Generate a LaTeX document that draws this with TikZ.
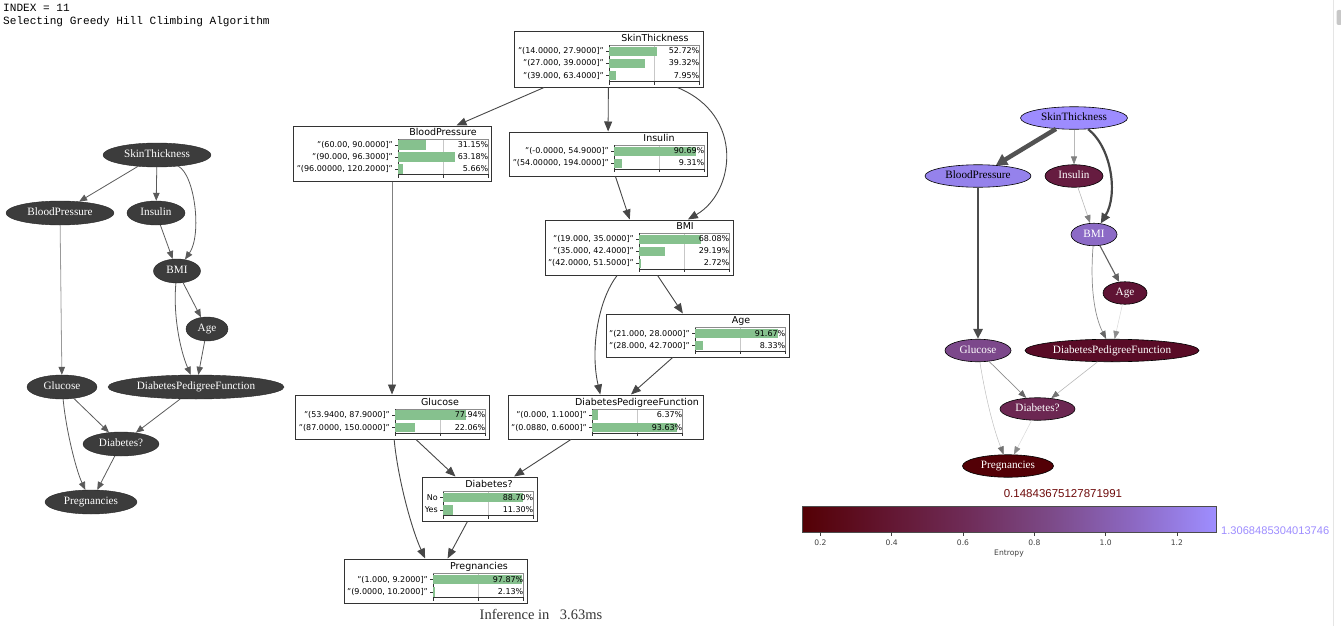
\documentclass[tikz,border=0pt]{standalone}
\usepackage{fontspec}
\setmainfont{Liberation Serif}
\setsansfont{DejaVu Sans}
\setmonofont{Liberation Mono}
\newfontfamily\cbarfont{Liberation Sans}
\usetikzlibrary{shapes.geometric,arrows.meta,positioning}

\definecolor{darknode}{HTML}{3C3C3C}
\definecolor{darkline}{HTML}{5A5A5A}
\definecolor{boxline}{HTML}{333333}
\definecolor{bargreen}{HTML}{86C18E}
\definecolor{ent0}{HTML}{540004}
\definecolor{ent1}{HTML}{62152F}
\definecolor{ent2}{HTML}{6F2C58}
\definecolor{ent3}{HTML}{7C4A88}
\definecolor{ent4}{HTML}{8C68C2}
\definecolor{ent5}{HTML}{9E8EFF}
\definecolor{eSkin}{HTML}{9D8CFF}
\definecolor{eBP}{HTML}{9582EC}
\definecolor{eBMI}{HTML}{8C6AC6}
\definecolor{eGlu}{HTML}{7C488B}
\definecolor{eDia}{HTML}{6C2752}
\definecolor{eIns}{HTML}{661C40}
\definecolor{eAge}{HTML}{5F1334}
\definecolor{eDPF}{HTML}{590B26}
\definecolor{ePreg}{HTML}{530006}
\definecolor{cbmin}{HTML}{6E0A0A}
\definecolor{cbmax}{HTML}{9D8CFF}
\pgfdeclarehorizontalshading{entropymap}{100bp}{color(0bp)=(ent0); color(25bp)=(ent0); color(35bp)=(ent1); color(45bp)=(ent2); color(55bp)=(ent3); color(65bp)=(ent4); color(75bp)=(ent5); color(100bp)=(ent5)}

\begin{document}
\begin{tikzpicture}[x=1pt,y=-1pt]
\tikzset{
  lnode/.style={ellipse, draw=black!85, fill=darknode, inner sep=0pt, minimum height=24pt, text=white, text height=7.5pt, text depth=2.5pt, font=\fontsize{11.2}{13}\selectfont},
  rnode/.style={ellipse, draw=black, line width=0.6pt, inner sep=0pt, minimum height=22.5pt, text=white, text height=7.5pt, text depth=2.5pt, font=\fontsize{11.2}{13}\selectfont},
  ledge/.style={draw=darkline, line width=0.8pt, -{Triangle[length=8pt,width=6.5pt,color=darkline]}},
  medge/.style={draw=black!72, line width=0.9pt, -{Triangle[length=10pt,width=8pt,color=black!72]}},
  redge/.style={-{Triangle[length=8pt,width=6.5pt]}},
  cptbox/.style={draw=boxline, line width=1pt, fill=white, inner sep=0pt},
  cpttitle/.style={font=\sffamily\fontsize{9.5}{11}\selectfont, inner sep=0pt, text height=7pt, text depth=2pt},
  rowlab/.style={anchor=east, font=\sffamily\fontsize{8}{9}\selectfont, inner sep=0pt, text height=6.2pt, text depth=1.2pt},
  bar/.style={fill=bargreen},
  gridline/.style={draw=black!22, line width=0.6pt},
  axisline/.style={draw=black!80, line width=0.6pt},
  plotframe/.style={draw=black!45, line width=0.6pt},
  monotext/.style={anchor=base west, inner sep=0pt, font=\ttfamily\fontsize{11.1}{13}\selectfont},
  cblabel/.style={inner sep=0pt, font=\sffamily\fontsize{7.6}{8}\selectfont, text=black!75},
  cbtick/.style={draw=black!75, line width=0.6pt}
}
\useasboundingbox (0,0) rectangle (1341,626);

\node[monotext] (idx) at (3,12) {INDEX = 11};
\node[monotext] (algo) at (3,25) {Selecting Greedy Hill Climbing Algorithm};

\node[lnode, minimum width=108pt] (lSkin) at (157,155) {SkinThickness};
\node[lnode, minimum width=108pt] (lBP) at (60,213) {BloodPressure};
\node[lnode, minimum width=58pt] (lIns) at (156,213) {Insulin};
\node[lnode, minimum width=47pt] (lBMI) at (177,271) {BMI};
\node[lnode, minimum width=42pt] (lAge) at (207,329) {Age};
\node[lnode, minimum width=70pt] (lGlu) at (62,387) {Glucose};
\node[lnode, minimum width=176pt] (lDPF) at (196,387) {DiabetesPedigreeFunction};
\node[lnode, minimum width=76pt] (lDia) at (121,444) {Diabetes?};
\node[lnode, minimum width=92pt] (lPreg) at (91,502) {Pregnancies};
\draw[ledge] (lSkin) -- (lBP);
\draw[ledge] (lSkin) -- (lIns);
\draw[ledge] (lSkin) .. controls (195,175) and (202,235) .. (lBMI);
\draw[ledge] (lIns) -- (lBMI);
\draw[ledge, draw=black!40] (lBP) -- (lGlu);
\draw[ledge] (lBMI) -- (lAge);
\draw[ledge] (lBMI) .. controls (173,315) and (180,350) .. (lDPF);
\draw[ledge] (lAge) -- (lDPF);
\draw[ledge] (lGlu) -- (lDia);
\draw[ledge] (lDPF) -- (lDia);
\draw[ledge] (lGlu) .. controls (66,430) and (76,470) .. (lPreg);
\draw[ledge] (lDia) -- (lPreg);

\node[cptbox, minimum width=189pt, minimum height=55pt] (cSkin) at (608.5,59.5) {};
\node[cptbox, minimum width=198pt, minimum height=55pt] (cBP) at (392,153.5) {};
\node[cptbox, minimum width=198pt, minimum height=44pt] (cIns) at (608,154) {};
\node[cptbox, minimum width=188pt, minimum height=55pt] (cBMI) at (639,247.5) {};
\node[cptbox, minimum width=183pt, minimum height=43pt] (cAge) at (697.5,335.5) {};
\node[cptbox, minimum width=194pt, minimum height=44pt] (cGlu) at (392,417) {};
\node[cptbox, minimum width=195pt, minimum height=44pt] (cDPF) at (605.5,417) {};
\node[cptbox, minimum width=115pt, minimum height=44pt] (cDia) at (479.5,499) {};
\node[cptbox, minimum width=183pt, minimum height=44pt] (cPreg) at (435.5,581) {};
\node[cpttitle] (tSkin) at (655,39) {SkinThickness};
\node[cpttitle] (tBP) at (443,133) {BloodPressure};
\node[cpttitle] (tIns) at (659,139) {Insulin};
\node[cpttitle] (tBMI) at (685,227) {BMI};
\node[cpttitle] (tAge) at (741,321) {Age};
\node[cpttitle] (tGlu) at (440,402.5) {Glucose};
\node[cpttitle] (tDPF) at (637,402.5) {DiabetesPedigreeFunction};
\node[cpttitle] (tDia) at (489,484.5) {Diabetes?};
\node[cpttitle] (tPreg) at (479,567) {Pregnancies};
\foreach \xa/\ya/\yb in {609/45.5/81.5, 398/139/174.5, 614/145.3/168.8, 639/233.3/268.8, 695/327.5/351, 395/409/433, 592/409/433, 443/491.5/515.5, 433/573.5/597.5} {
  \draw[gridline] (\xa+45,\ya) -- (\xa+45,\yb);
  \draw[plotframe] (\xa,\ya) rectangle (\xa+90.5,\yb);
  \draw[axisline] (\xa,\ya) -- (\xa,\yb) -- (\xa+90.5,\yb);
  \foreach \tx in {0,45,90.5}
    \draw[axisline] (\xa+\tx,\yb) -- (\xa+\tx,\yb+3);
}
\foreach \xa/\yy/\lab/\pr [count=\i] in {609/51.5/{"(14.0000, 27.9000]"}/52.72, 609/63.5/{"(27.000, 39.0000]"}/39.32, 609/75.5/{"(39.000, 63.4000]"}/7.95,
    398/145/{"(60.00, 90.0000]"}/31.15, 398/157/{"(90.000, 96.3000]"}/63.18, 398/169/{"(96.00000, 120.2000]"}/5.66,
    614/151.3/{"(-0.0000, 54.9000]"}/90.69, 614/163.3/{"(54.00000, 194.0000]"}/9.31,
    639/239.3/{"(19.000, 35.0000]"}/68.08, 639/251.3/{"(35.000, 42.4000]"}/29.19, 639/263.3/{"(42.0000, 51.5000]"}/2.72,
    695/333.5/{"(21.000, 28.0000]"}/91.67, 695/345.5/{"(28.000, 42.7000]"}/8.33,
    395/415/{"(53.9400, 87.9000]"}/77.94, 395/427.5/{"(87.0000, 150.0000]"}/22.06,
    592/415/{"(0.000, 1.1000]"}/6.37, 592/427.5/{"(0.0880, 0.6000]"}/93.63,
    443/497.5/No/88.70, 443/510/Yes/11.30,
    433/579.5/{"(1.000, 9.2000]"}/97.87, 433/592/{"(9.0000, 10.2000]"}/2.13} {
  \fill[bar] (\xa+0.4,\yy-4.8) rectangle (\xa+0.905*\pr,\yy+4.8);
  \draw[axisline] (\xa-3,\yy) -- (\xa,\yy);
  \node[rowlab] (row\i) at (\xa-5,\yy) {\lab};
  \node[rowlab] (pct\i) at (\xa+90.5,\yy) {\pr\%};
}
\draw[medge] (cSkin) -- (cBP);
\draw[medge] (cSkin) -- (cIns);
\draw[medge] (cSkin) .. controls (745,115) and (735,192.5) .. (cBMI);
\draw[medge] (cIns) -- (cBMI);
\draw[medge, draw=black!50] (cBP) -- (cGlu);
\draw[medge] (cBMI) -- (cAge);
\draw[medge] (cBMI) .. controls (598,300) and (590,350) .. (cDPF);
\draw[medge] (cAge) -- (cDPF);
\draw[medge] (cGlu) -- (cDia);
\draw[medge] (cDPF) -- (cDia);
\draw[medge] (cGlu) .. controls (398,480) and (412,530) .. (cPreg);
\draw[medge] (cDia) -- (cPreg);
\node[inner sep=0pt, text=black!80, font=\fontsize{14.5}{16}\selectfont] (inftime) at (541,614) {Inference in\hspace{7pt} 3.63ms};

\node[rnode, fill=eSkin, text=black, minimum width=107pt] (rSkin) at (1074,118) {SkinThickness};
\node[rnode, fill=eBP, text=black, minimum width=106pt] (rBP) at (978,176) {BloodPressure};
\node[rnode, fill=eIns, minimum width=58pt] (rIns) at (1074,176) {Insulin};
\node[rnode, fill=eBMI, minimum width=46pt] (rBMI) at (1094,234.5) {BMI};
\node[rnode, fill=eAge, minimum width=44pt] (rAge) at (1125,293) {Age};
\node[rnode, fill=eGlu, minimum width=66pt] (rGlu) at (978,350.5) {Glucose};
\node[rnode, fill=eDPF, minimum width=174pt] (rDPF) at (1112,350.5) {DiabetesPedigreeFunction};
\node[rnode, fill=eDia, minimum width=75pt] (rDia) at (1037.5,409) {Diabetes?};
\node[rnode, fill=ePreg, minimum width=91pt] (rPreg) at (1008,466) {Pregnancies};
\draw[redge, draw=black!68, line width=4.5pt, -{Triangle[length=11pt,width=12pt]}] (rSkin) -- (rBP);
\draw[redge, draw=black!28, line width=0.6pt, -{Triangle[length=8pt,width=6pt,color=black!50]}] (rSkin) -- (rIns);
\draw[redge, draw=black!72, line width=2.2pt, -{Triangle[length=10pt,width=9pt]}] (rSkin) .. controls (1112,148) and (1118,195) .. (rBMI);
\draw[redge, draw=black!28, line width=0.6pt, -{Triangle[length=8pt,width=6pt,color=black!50]}] (rIns) -- (rBMI);
\draw[redge, draw=black!70, line width=2.8pt, -{Triangle[length=10pt,width=9pt]}] (rBP) -- (rGlu);
\draw[redge, draw=black!62, line width=1.1pt, -{Triangle[length=8pt,width=7pt]}] (rBMI) -- (rAge);
\draw[redge, draw=black!45, line width=0.7pt, -{Triangle[length=8pt,width=6pt,color=black!60]}] (rBMI) .. controls (1090,285) and (1094,315) .. (rDPF);
\draw[redge, draw=black!15, line width=0.5pt, -{Triangle[length=8pt,width=6pt,color=black!45]}] (rAge) -- (rDPF);
\draw[redge, draw=black!45, line width=0.7pt, -{Triangle[length=8pt,width=6pt,color=black!60]}] (rGlu) -- (rDia);
\draw[redge, draw=black!28, line width=0.6pt, -{Triangle[length=8pt,width=6pt,color=black!55]}] (rDPF) -- (rDia);
\draw[redge, draw=black!25, line width=0.5pt, -{Triangle[length=8pt,width=6pt,color=black!55]}] (rGlu) .. controls (986,400) and (994,430) .. (rPreg);
\draw[redge, draw=black!15, line width=0.5pt, -{Triangle[length=8pt,width=6pt,color=black!45]}] (rDia) -- (rPreg);

\node[inner sep=0pt, text=cbmin, font=\cbarfont\fontsize{11.5}{13}\selectfont] (minval) at (1063,494) {0.14843675127871991};
\shade[shading=entropymap] (802,506) rectangle (1216,532);
\draw[draw=black!70, line width=0.7pt] (802,506) rectangle (1216,532);
\node[anchor=west, inner sep=0pt, text=cbmax, font=\cbarfont\fontsize{11.1}{13}\selectfont] (maxval) at (1221,531) {1.3068485304013746};
\foreach \tx/\tl [count=\i] in {820.4/0.2, 891.7/0.4, 963.0/0.6, 1034.3/0.8, 1105.6/1.0, 1176.9/1.2} {
  \draw[cbtick] (\tx,532) -- (\tx,535.5);
  \node[cblabel] (tick\i) at (\tx,542.5) {\tl};
}
\node[cblabel] (entlab) at (1009,553.5) {Entropy};

\draw[draw=black!10, line width=1pt] (1333.5,0) -- (1333.5,626);
\fill[black!22, rounded corners=2pt] (1336.5,10) rectangle (1342,25);
\end{tikzpicture}
\end{document}
